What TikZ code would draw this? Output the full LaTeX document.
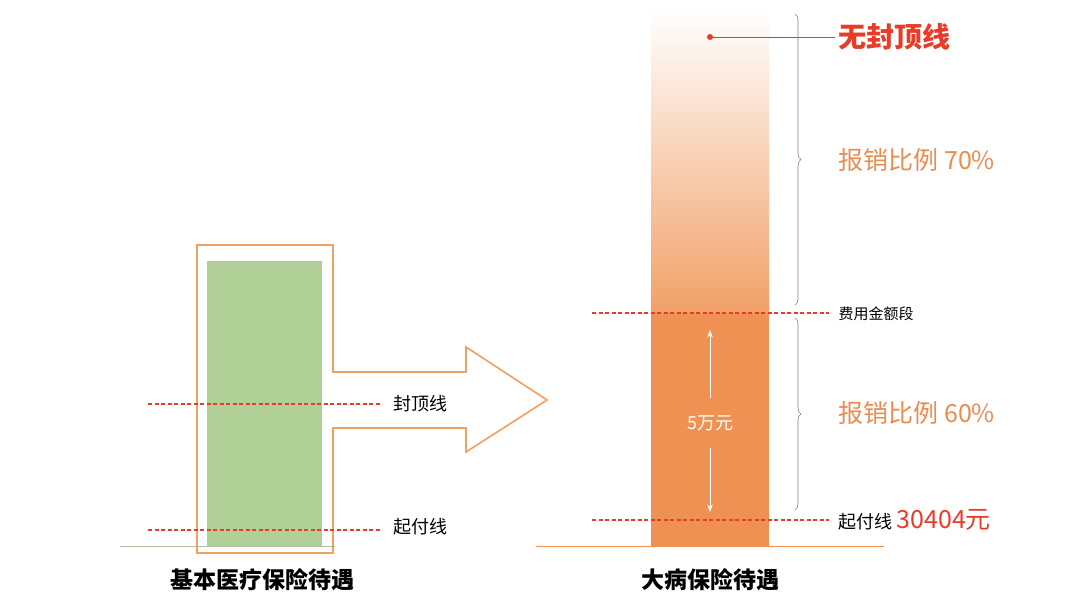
\documentclass[tikz,border=0pt]{standalone}
\usepackage{fontspec}
\setmainfont{Noto Sans CJK SC}
\usetikzlibrary{positioning, decorations.pathreplacing, arrows.meta}
\definecolor{leaf}{RGB}{176,208,152}
\definecolor{tangerine}{RGB}{239,145,82}
\definecolor{peach}{RGB}{241,160,104}
\definecolor{outline}{RGB}{240,160,96}
\definecolor{alert}{RGB}{230,60,40}
\definecolor{ochre}{RGB}{232,140,80}

\begin{document}
\begin{tikzpicture}[
    x=1pt, y=-1pt,
    cutline/.style={alert, dash pattern=on 4pt off 2.5pt, line width=1.3pt},
    note/.style={anchor=west, font=\fontsize{18}{21}\selectfont},
    ratio/.style={anchor=west, ochre, font=\fontsize{25}{30}\selectfont},
    title/.style={font=\fontsize{23}{27}\selectfont\bfseries},
    brace/.style={decorate, decoration={brace, amplitude=6pt}, gray, line width=0.6pt}
]
\useasboundingbox (0,0) rectangle (1080,608);

% basic insurance
\draw[leaf!70!black!60, line width=1pt] (120,546) -- (335,546);
\fill[leaf] (207,261) rectangle (322,546);
\draw[outline, line width=1.6pt] (197,245) -- (333,245) -- (333,372) -- (466,372) -- (466,347)
    -- (547,400) -- (466,452) -- (466,428) -- (333,428) -- (333,553) -- (197,553) -- cycle;
\coordinate (capL) at (148,404);
\coordinate (baseL) at (148,530);
\node[note] (cap) at (390,404) {封顶线};
\node[note] (base) at (390,527) {起付线};
\draw[cutline] (capL) -- ([xshift=-8pt]capL -| cap.west);
\draw[cutline] (baseL) -- ([xshift=-8pt]baseL -| base.west);
\node[title] (basic) at (262,580) {基本医疗保险待遇};

% serious illness insurance
\shade[top color=white, bottom color=peach] (651,10) rectangle (769,313);
\fill[tangerine] (651,313) rectangle (769,546);
\draw[tangerine, line width=0.8pt] (536,546) -- (884,546);
\coordinate (segL) at (592,313);
\coordinate (payL) at (592,520);
\node[anchor=west, font=\fontsize{15}{18}\selectfont] (seg) at (835,314) {费用金额段};
\node[note] (pay) at (835,520) {起付线 \textcolor{alert}{\fontsize{25}{30}\selectfont 30404元}};
\draw[cutline] (segL) -- ([xshift=-6pt]segL -| seg.west);
\draw[cutline] (payL) -- ([xshift=-6pt]payL -| pay.west);

\node[anchor=west, alert, font=\fontsize{28}{33}\selectfont\bfseries] (nocap) at (835,37) {无封顶线};
\fill[alert] (710,37) circle (3pt) coordinate (dot);
\draw[alert, line width=0.5pt] (dot) -- (nocap.west);

\draw[brace] (795,14) -- (795,305);
\draw[brace] (795,318) -- (795,510);
\node[ratio] (r70) at (835,160) {报销比例 70\%};
\node[ratio] (r60) at (835,413) {报销比例 60\%};

\node[white, font=\fontsize{18}{21}\selectfont] (span) at (710,423) {5万元};
\coordinate (spanTop) at (710,330);
\coordinate (spanBot) at (710,512);
\draw[white, line width=1pt, -{Stealth}] (710,398) -- (spanTop);
\draw[white, line width=1pt, -{Stealth}] (710,448) -- (spanBot);
\node[title] (serious) at (710,580) {大病保险待遇};
\end{tikzpicture}
\end{document}
